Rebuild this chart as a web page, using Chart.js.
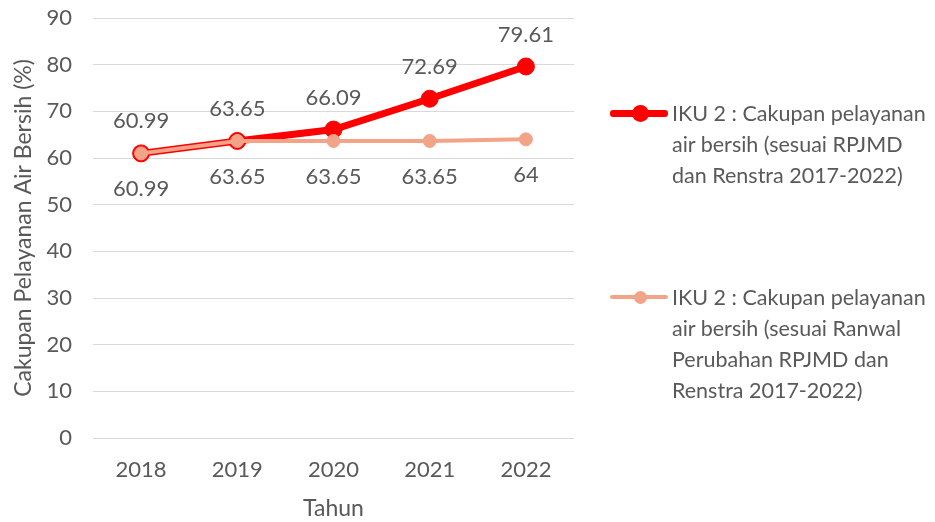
<!DOCTYPE html>
<html>
<head>
<meta charset="utf-8">
<script src="https://cdn.jsdelivr.net/npm/chart.js@4.4.1/dist/chart.umd.min.js"></script>
<style>
  html, body { margin: 0; padding: 0; background: #fff; }
  #wrap { position: relative; width: 935px; height: 522px; }
  #legend { position: absolute; left: 0; top: 0; font-family: Lato, sans-serif; font-size: 21.5px; color: #595959; }
  .item { position: absolute; left: 610px; }
  .item .text { position: absolute; left: 62px; top: 0; width: 270px; line-height: 31px; white-space: nowrap; }
  .item .line { position: absolute; left: 0; width: 58px; border-radius: 3px; }
  .item .dot { position: absolute; border-radius: 50%; }
</style>
</head>
<body>
<div id="wrap">
  <canvas id="chart" width="935" height="522"></canvas>
  <div id="legend"></div>
</div>
<script>
// data
const years = ['2018', '2019', '2020', '2021', '2022'];
const rpjmd = [60.99, 63.65, 66.09, 72.69, 79.61];
const ranwal = [60.99, 63.65, 63.65, 63.65, 64];
const seriesNames = [
    'IKU 2 : Cakupan pelayanan air bersih (sesuai RPJMD dan Renstra 2017-2022)',
    'IKU 2 : Cakupan pelayanan air bersih (sesuai Ranwal Perubahan RPJMD dan Renstra 2017-2022)'
];
// how the legend text breaks into lines
const legendLines = [
    ['IKU 2 : Cakupan pelayanan', 'air bersih (sesuai RPJMD', 'dan Renstra 2017-2022)'],
    ['IKU 2 : Cakupan pelayanan', 'air bersih (sesuai Ranwal', 'Perubahan RPJMD dan', 'Renstra 2017-2022)']
];

const textColor = '#595959';
const font = 'Lato, sans-serif';

// value labels above / below the points
const valueLabels = {
    id: 'valueLabels',
    afterDatasetsDraw(chart) {
        const ctx = chart.ctx;
        ctx.save();
        ctx.font = '22px ' + font;
        ctx.fillStyle = textColor;
        ctx.textAlign = 'center';
        ctx.textBaseline = 'middle';
        chart.data.datasets.forEach((ds, i) => {
            const meta = chart.getDatasetMeta(i);
            meta.data.forEach((pt, j) => {
                const dy = ds.labelPos === 'top' ? -32 : 36;
                ctx.fillText(String(ds.data[j]), pt.x, pt.y + dy);
            });
        });
        ctx.restore();
    }
};

const ctx = document.getElementById('chart').getContext('2d');
const chart = new Chart(ctx, {
    type: 'line',
    data: {
        labels: years,
        datasets: [{
            label: seriesNames[0],
            data: rpjmd,
            borderColor: '#ff0000',
            backgroundColor: '#ff0000',
            borderWidth: 7,
            pointRadius: 8.5,
            pointBorderWidth: 1,
            pointBackgroundColor: '#ff0000',
            pointBorderColor: '#ff0000',
            labelPos: 'top',
            order: 1
        }, {
            label: seriesNames[1],
            data: ranwal,
            borderColor: '#f2a488',
            backgroundColor: '#f2a488',
            borderWidth: 4,
            pointRadius: 6.5,
            pointBorderWidth: 1,
            pointBackgroundColor: '#f2a488',
            pointBorderColor: '#f2a488',
            labelPos: 'bottom',
            order: 0
        }]
    },
    options: {
        responsive: false,
        animation: false,
        layout: { padding: { top: 18, right: 361, left: 0, bottom: 0 } },
        plugins: {
            legend: { display: false },
            tooltip: { enabled: false }
        },
        scales: {
            x: {
                offset: true,
                grid: { display: false, drawTicks: false },
                border: { display: false },
                ticks: { color: textColor, font: { family: font, size: 22 }, padding: 19 },
                title: { display: true, text: 'Tahun', color: textColor, font: { family: font, size: 23 }, padding: { top: 0, bottom: 0 } },
                afterFit(scale) { scale.height = 84; }
            },
            y: {
                min: 0,
                max: 90,
                ticks: { stepSize: 10, color: textColor, font: { family: font, size: 22 }, padding: 21 },
                grid: { color: '#d9d9d9', lineWidth: 1, drawTicks: false },
                border: { display: false },
                title: { display: true, text: 'Cakupan Pelayanan Air Bersih (%)', color: textColor, font: { family: font, size: 23 }, padding: { top: 10, bottom: 4 } },
                afterFit(scale) {
                    scale.width = 93;
                    scale.paddingTop = 0;
                    scale.paddingBottom = 0;
                }
            }
        }
    },
    plugins: [valueLabels]
});

// html legend
const legendTops = [98, 282];
const legend = document.getElementById('legend');
chart.data.datasets.forEach((ds, i) => {
    const item = document.createElement('div');
    item.className = 'item';
    item.style.top = legendTops[i] + 'px';
    const lw = ds.borderWidth;
    const r = ds.pointRadius;
    const line = document.createElement('div');
    line.className = 'line';
    line.style.top = (15 - lw / 2) + 'px';
    line.style.height = lw + 'px';
    line.style.background = ds.borderColor;
    const dot = document.createElement('div');
    dot.className = 'dot';
    dot.style.left = (30 - r) + 'px';
    dot.style.top = (15 - r) + 'px';
    dot.style.width = (2 * r) + 'px';
    dot.style.height = (2 * r) + 'px';
    dot.style.background = ds.pointBackgroundColor;
    const text = document.createElement('div');
    text.className = 'text';
    text.innerHTML = legendLines[i].join('<br>');
    text.title = ds.label;
    item.appendChild(line);
    item.appendChild(dot);
    item.appendChild(text);
    legend.appendChild(item);
});
</script>
</body>
</html>
